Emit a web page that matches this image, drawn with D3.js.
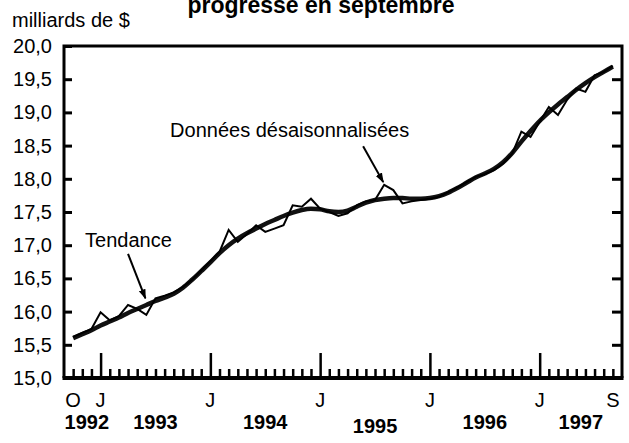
<!DOCTYPE html>
<html>
<head>
<meta charset="utf-8">
<script src="https://cdn.jsdelivr.net/npm/d3@7"></script>
<style>
  body { margin: 0; background: #fff; }
  text { font-family: "Liberation Sans", Arial, sans-serif; fill: #000; }
</style>
</head>
<body>
<svg width="629" height="443"></svg>
<script>
// months from Oct 1992 to Sep 1997, one value per month
var months = [
  "1992-10","1992-11","1992-12",
  "1993-01","1993-02","1993-03","1993-04","1993-05","1993-06","1993-07","1993-08","1993-09","1993-10","1993-11","1993-12",
  "1994-01","1994-02","1994-03","1994-04","1994-05","1994-06","1994-07","1994-08","1994-09","1994-10","1994-11","1994-12",
  "1995-01","1995-02","1995-03","1995-04","1995-05","1995-06","1995-07","1995-08","1995-09","1995-10","1995-11","1995-12",
  "1996-01","1996-02","1996-03","1996-04","1996-05","1996-06","1996-07","1996-08","1996-09","1996-10","1996-11","1996-12",
  "1997-01","1997-02","1997-03","1997-04","1997-05","1997-06","1997-07","1997-08","1997-09"
];

// données désaisonnalisées
var adjusted = [
  15.62, 15.68, 15.74,
  15.99, 15.87, 15.93, 16.10, 16.04, 15.95, 16.20, 16.24, 16.29, 16.37, 16.48, 16.62,
  16.76, 16.90, 17.23, 17.05, 17.17, 17.30, 17.20, 17.25, 17.30, 17.60, 17.58, 17.70,
  17.55, 17.50, 17.44, 17.48, 17.60, 17.66, 17.68, 17.91, 17.83, 17.63, 17.66, 17.68,
  17.70, 17.73, 17.80, 17.87, 17.95, 18.03, 18.07, 18.13, 18.23, 18.38, 18.71, 18.63,
  18.86, 19.08, 18.96, 19.19, 19.36, 19.31, 19.56, 19.61, 19.70
];

// tendance
var trend = [
  15.60, 15.66, 15.72,
  15.79, 15.85, 15.91, 15.98, 16.04, 16.10, 16.16, 16.21, 16.27, 16.36, 16.48, 16.61,
  16.74, 16.88, 17.00, 17.10, 17.18, 17.25, 17.32, 17.38, 17.44, 17.49, 17.53, 17.55,
  17.54, 17.51, 17.50, 17.52, 17.58, 17.64, 17.68, 17.70, 17.71, 17.71, 17.70, 17.70,
  17.71, 17.74, 17.79, 17.86, 17.94, 18.02, 18.08, 18.15, 18.25, 18.39, 18.56, 18.72,
  18.87, 19.00, 19.12, 19.23, 19.34, 19.44, 19.53, 19.61, 19.69
];

var yTicks = [15, 15.5, 16, 16.5, 17, 17.5, 18, 18.5, 19, 19.5, 20];
var years = ["1992", "1993", "1994", "1995", "1996", "1997"];

var title = "progresse en septembre";
var unitLabel = "milliards de $";

var svg = d3.select("svg");

var plotLeft = 64, plotRight = 622, plotTop = 46, plotBottom = 378;

var x = d3.scaleLinear().domain([-1, months.length]).range([plotLeft, plotRight]);
var y = d3.scaleLinear().domain([15, 20]).range([plotBottom, plotTop]);

var fr = d3.formatLocale({ decimal: ",", thousands: " ", grouping: [3], currency: ["", " $"] });
var fmt = fr.format(".1f");

// title (first line is off the top of the picture)
svg.append("text")
  .attr("x", 321).attr("y", 13)
  .attr("text-anchor", "middle")
  .attr("font-size", 23).attr("font-weight", "bold")
  .text(title);

svg.append("text")
  .attr("x", 12).attr("y", 27)
  .attr("font-size", 20)
  .text(unitLabel);

// y axes, ticks pointing inside
var yLeft = svg.append("g")
  .attr("transform", "translate(" + plotLeft + ",0)")
  .call(d3.axisLeft(y).tickValues(yTicks).tickSize(-8).tickPadding(12).tickFormat(fmt));

var yRight = svg.append("g")
  .attr("transform", "translate(" + plotRight + ",0)")
  .call(d3.axisRight(y).tickValues(yTicks.slice(1, -1)).tickSize(-10).tickFormat(""));

[yLeft, yRight].forEach(function (g) {
  g.select(".domain").remove();
  g.selectAll("line").attr("stroke", "#000").attr("stroke-width", 3);
  g.selectAll("text").attr("font-size", 20).attr("font-family", null).attr("fill", "#000");
});

// x axis, monthly ticks pointing up, long ones in January
var idx = d3.range(months.length);
var xAxis = svg.append("g")
  .attr("transform", "translate(0," + plotBottom + ")")
  .call(d3.axisBottom(x).tickValues(idx).tickSize(-9).tickFormat(""));
xAxis.select(".domain").remove();
xAxis.selectAll("line")
  .attr("stroke", "#000").attr("stroke-width", 2.5)
  .attr("y2", function (i) { return months[i].slice(5) === "01" ? -25 : -9; });

// month letters
var letterIdx = idx.filter(function (i) {
  return i === 0 || i === months.length - 1 || months[i].slice(5) === "01";
});
var monthNames = ["J", "F", "M", "A", "M", "J", "J", "A", "S", "O", "N", "D"];
svg.append("g").selectAll("text")
  .data(letterIdx)
  .enter().append("text")
    .attr("x", function (i) { return x(i); })
    .attr("y", 407)
    .attr("text-anchor", "middle")
    .attr("font-size", 20)
    .text(function (i) { return monthNames[+months[i].slice(5) - 1]; });

// year labels centred on the months of each year
function yearCenter(yr) {
  var first = months.findIndex(function (m) { return m.slice(0, 4) === yr; });
  var next = months.findIndex(function (m) { return +m.slice(0, 4) > +yr; });
  if (next < 0) next = months.length;
  return (first + next) / 2;
}
svg.append("g").selectAll("text")
  .data(years)
  .enter().append("text")
    .attr("x", function (d) { return x(yearCenter(d)); })
    .attr("y", function (d) { return d === "1995" ? 433 : 429; })
    .attr("text-anchor", "middle")
    .attr("font-size", 20).attr("font-weight", "bold")
    .text(function (d) { return d; });

// frame
svg.append("path")
  .attr("d", "M" + plotLeft + "," + plotBottom + "V" + plotTop + "H" + plotRight + "V" + plotBottom)
  .attr("fill", "none").attr("stroke", "#000").attr("stroke-width", 3);
svg.append("line")
  .attr("x1", plotLeft - 1.5).attr("x2", plotRight + 1.5)
  .attr("y1", plotBottom).attr("y2", plotBottom)
  .attr("stroke", "#000").attr("stroke-width", 4);

// series
var line = d3.line()
  .x(function (d, i) { return x(i); })
  .y(function (d) { return y(d); });

svg.append("path")
  .datum(trend)
  .attr("d", line.curve(d3.curveMonotoneX))
  .attr("fill", "none").attr("stroke", "#111").attr("stroke-width", 4.5)
  .attr("stroke-linejoin", "round");

svg.append("path")
  .datum(adjusted)
  .attr("d", line.curve(d3.curveLinear))
  .attr("fill", "none").attr("stroke", "#000").attr("stroke-width", 2)
  .attr("stroke-linejoin", "miter");

// annotations
svg.append("defs").append("marker")
  .attr("id", "arrow")
  .attr("viewBox", "0 0 10 10")
  .attr("refX", 9).attr("refY", 5)
  .attr("markerWidth", 5).attr("markerHeight", 5)
  .attr("orient", "auto")
  .append("path").attr("d", "M0,1.5L10,5L0,8.5Z").attr("fill", "#000");

var notes = [
  { text: "Tendance", tx: 1.3, ty: 16.97, from: [6.0, 16.87], to: [7.9, 16.20] },
  { text: "Données désaisonnalisées", tx: 10.6, ty: 18.63, from: [31.7, 18.49], to: [33.9, 17.95] }
];
notes.forEach(function (n) {
  svg.append("text")
    .attr("x", x(n.tx)).attr("y", y(n.ty))
    .attr("font-size", 20)
    .text(n.text);
  svg.append("line")
    .attr("x1", x(n.from[0])).attr("y1", y(n.from[1]))
    .attr("x2", x(n.to[0])).attr("y2", y(n.to[1]))
    .attr("stroke", "#000").attr("stroke-width", 2)
    .attr("marker-end", "url(#arrow)");
});
</script>
</body>
</html>
